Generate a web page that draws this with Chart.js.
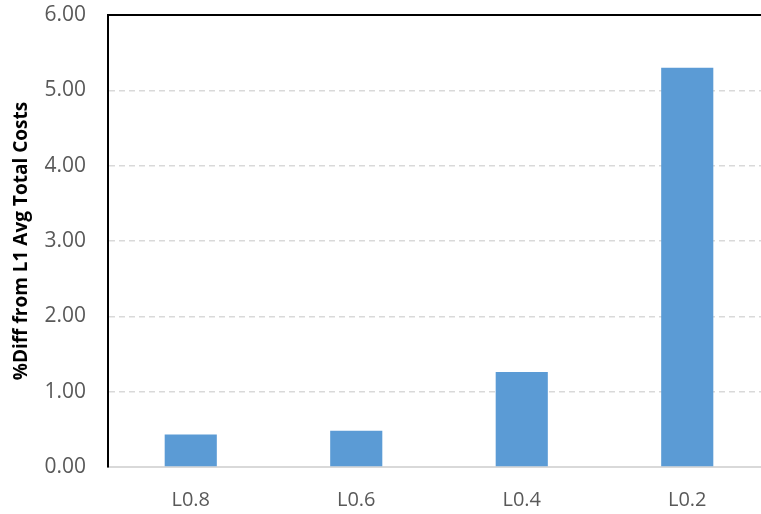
<!DOCTYPE html>
<html>
<head>
<meta charset="utf-8">
<script src="https://cdn.jsdelivr.net/npm/chart.js@4.4.1/dist/chart.umd.min.js"></script>
<style>
  html, body { margin: 0; padding: 0; background: #fff; overflow: hidden; }
  #wrap { width: 761px; height: 514px; overflow: hidden; }
  canvas { display: block; }
</style>
</head>
<body>
<div id="wrap"><canvas id="myBarChart" width="780" height="514"></canvas></div>
<script>
// Chart data
const categories = ["L0.8", "L0.6", "L0.4", "L0.2"];
const pctDiff = [0.43, 0.48, 1.26, 5.30];
const yTicks = [0, 1, 2, 3, 4, 5, 6];

const tickColor = "#595959";
const fontFamily = "'Open Sans', 'DejaVu Sans', sans-serif";

// Draws the black line along the top of the plot area
const topBorderPlugin = {
  id: "topBorder",
  afterDraw: (chart) => {
    const { ctx, chartArea } = chart;
    ctx.save();
    ctx.strokeStyle = "#000000";
    ctx.lineWidth = 2;
    ctx.beginPath();
    ctx.moveTo(chartArea.left - 1, chartArea.top);
    ctx.lineTo(chartArea.right, chartArea.top);
    ctx.stroke();
    ctx.restore();
  },
};

const ctx = document.getElementById("myBarChart").getContext("2d");

new Chart(ctx, {
  type: "bar",
  data: {
    labels: categories,
    datasets: [
      {
        label: "%Diff",
        data: pctDiff,
        backgroundColor: "#5b9bd5",
        borderWidth: 0,
        barPercentage: 0.315,
        categoryPercentage: 1,
      },
    ],
  },
  options: {
    responsive: false,
    animation: false,
    layout: { padding: { top: 0, right: 10, left: 0, bottom: 0 } },
    plugins: {
      legend: { display: false },
      tooltip: { enabled: false },
    },
    scales: {
      x: {
        grid: { display: false, drawTicks: false },
        border: { display: true, color: "#d9d9d9", width: 2 },
        ticks: {
          color: tickColor,
          font: { family: fontFamily, size: 20 },
          padding: 21,
        },
        afterFit: (scale) => { scale.height = 47; },
      },
      y: {
        min: 0,
        max: 6,
        afterBuildTicks: (scale) => {
          scale.ticks = yTicks.map((v) => ({ value: v }));
        },
        grid: {
          color: (c) => (c.tick && c.tick.value > 0 && c.tick.value < 6 ? "#d9d9d9" : "rgba(0,0,0,0)"),
          lineWidth: 1.5,
          drawTicks: false,
        },
        border: { display: true, color: "#000000", width: 2, dash: [6, 4] },
        ticks: {
          color: tickColor,
          font: { family: fontFamily, size: 21 },
          padding: 22,
          callback: (v) => Number(v).toFixed(2),
        },
        title: {
          display: true,
          text: "%Diff from L1 Avg Total Costs",
          color: "#000000",
          font: { family: fontFamily, size: 19, weight: "bold" },
          padding: { top: 10, bottom: 0 },
        },
        afterFit: (scale) => {
          scale.width = 108;
          // tick padding is added to the top by default; keep plot top at 15px
          scale.paddingTop = 15;
        },
      },
    },
  },
  plugins: [topBorderPlugin],
});
</script>
</body>
</html>
